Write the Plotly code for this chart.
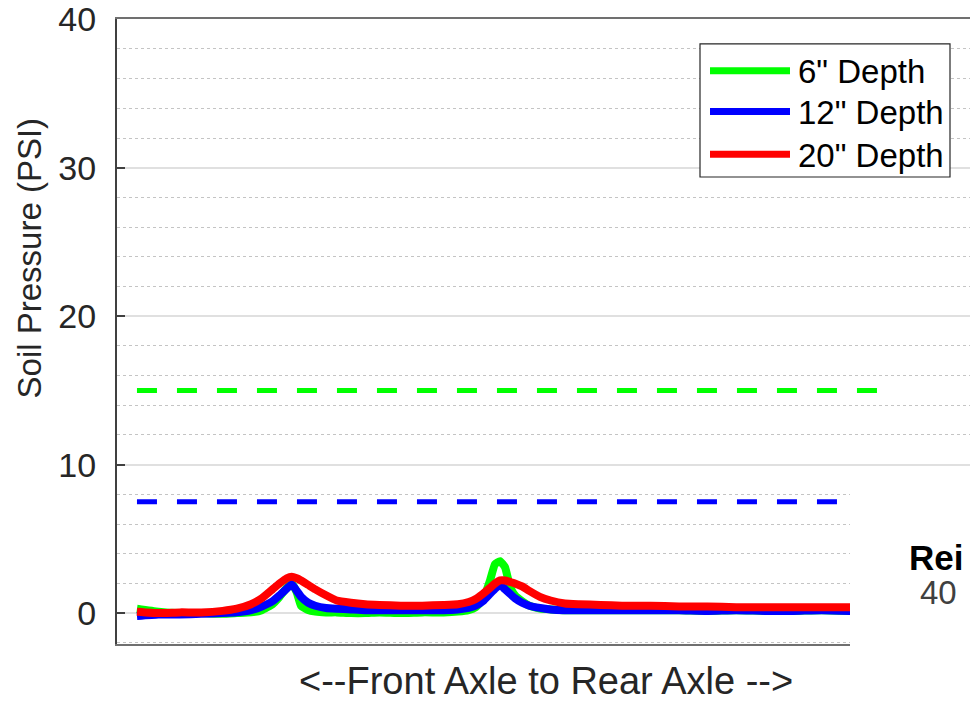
import plotly.graph_objects as go

# ---------------- data ----------------
pos = [0, 3, 6, 9, 12, 14, 16, 17.5, 19, 20, 21, 21.7, 22.4, 23, 24, 25, 26.5, 28, 30, 32,
       34, 37, 40, 43, 45, 46.5, 47.5, 48.5, 49.5, 50.2, 50.9, 51.6, 52.3, 53, 54, 55, 56.5,
       58, 60, 62, 65, 68, 72, 76, 80, 84, 88, 92, 96, 100]

depth6 = [0.3, 0.1, 0.0, 0.0, -0.05, 0.0, 0.05, 0.2, 0.6, 1.1, 1.7, 2.0, 1.4, 0.5, 0.2, 0.1, 0.05,
          0.05, 0.0, 0.0, 0.05, 0.0, 0.05, 0.05, 0.1, 0.2, 0.4, 0.9, 2.2, 3.3, 3.5, 3.1, 1.8, 1.2,
          0.8, 0.5, 0.3, 0.25, 0.2, 0.2, 0.2, 0.2, 0.2, 0.2, 0.15, 0.2, 0.15, 0.15, 0.2, 0.15]

depth12 = [-0.2, -0.1, -0.1, -0.05, 0.0, 0.05, 0.2, 0.45, 0.8, 1.2, 1.65, 1.95, 1.5, 1.1, 0.7, 0.5,
           0.35, 0.3, 0.25, 0.2, 0.2, 0.2, 0.2, 0.2, 0.25, 0.35, 0.5, 0.8, 1.3, 1.65, 1.9, 1.6, 1.3,
           1.0, 0.7, 0.5, 0.35, 0.25, 0.2, 0.2, 0.2, 0.2, 0.2, 0.2, 0.15, 0.2, 0.15, 0.15, 0.2, 0.15]

depth20 = [0.1, 0.0, 0.05, 0.05, 0.15, 0.3, 0.6, 1.0, 1.6, 2.0, 2.35, 2.45, 2.35, 2.2, 1.9, 1.6,
           1.2, 0.85, 0.7, 0.6, 0.55, 0.5, 0.5, 0.55, 0.6, 0.75, 0.95, 1.3, 1.7, 2.0, 2.2, 2.2, 2.1,
           2.0, 1.8, 1.5, 1.1, 0.85, 0.65, 0.6, 0.55, 0.5, 0.5, 0.45, 0.45, 0.4, 0.4, 0.4, 0.4, 0.4]

limit_x = [0, 105.3]
limit6 = [15, 15]
limit12 = [7.5, 7.5]

series_names = ['6" Depth', '12" Depth', '20" Depth']
series_colors = ['#00ff00', '#0000ff', '#ff0000']
y_ticks = [0, 10, 20, 30, 40]

FONT = "Liberation Sans, Arial, Helvetica, sans-serif"

# ---------------- figure ----------------
W, H = 970, 703
L, R, T, B = 117, 0, 15, 59
PW, PH = W - L - R, H - T - B


def px(x):
    return (x - L) / PW


def py(y):
    return (H - B - y) / PH


fig = go.Figure()

fig.add_trace(go.Scatter(x=limit_x, y=limit6, mode="lines", showlegend=False,
                         line=dict(color=series_colors[0], width=5, dash="20px,20px")))
fig.add_trace(go.Scatter(x=limit_x, y=limit12, mode="lines", showlegend=False,
                         line=dict(color=series_colors[1], width=5, dash="20px,20px")))

for name, col, vals in zip(series_names, series_colors, [depth6, depth12, depth20]):
    fig.add_trace(go.Scatter(x=pos, y=vals, mode="lines", name=name, showlegend=False,
                             line=dict(color=col, width=8, shape="spline", smoothing=0.4)))

shapes = []
# white panel covering lower-right corner (cropped neighbouring panel)
shapes.append(dict(type="rect", xref="paper", yref="paper", x0=px(850), x1=px(980),
                   y0=py(710), y1=py(467), fillcolor="white", line=dict(width=0), layer="above"))
# legend box
shapes.append(dict(type="rect", xref="paper", yref="paper", x0=px(700), x1=px(950),
                   y0=py(174), y1=py(40), fillcolor="white",
                   line=dict(color="#262626", width=1.2), layer="above"))
annotations = []
legend_y = [67, 108, 151]
for name, col, ly in zip(series_names, series_colors, legend_y):
    shapes.append(dict(type="line", xref="paper", yref="paper", x0=px(710), x1=px(790),
                       y0=py(ly), y1=py(ly), line=dict(color=col, width=7), layer="above"))
    annotations.append(dict(xref="paper", yref="paper", x=px(796), y=py(ly + 1), text=name,
                            showarrow=False, xanchor="left", yanchor="middle",
                            font=dict(family=FONT, size=33, color="#000000")))

annotations.append(dict(xref="paper", yref="paper", x=px(29), y=py(256),
                        text="Soil Pressure (PSI)", textangle=-90, showarrow=False,
                        xanchor="center", yanchor="middle",
                        font=dict(family=FONT, size=33, color="#262626")))
annotations.append(dict(xref="paper", yref="paper", x=px(546), y=py(681),
                        text="&lt;--Front Axle to Rear Axle --&gt;", showarrow=False,
                        xanchor="center", yanchor="middle", borderpad=0,
                        font=dict(family=FONT, size=38, color="#262626")))
annotations.append(dict(xref="paper", yref="paper", x=px(907), y=py(557),
                        text="<b>Rei</b>", showarrow=False, xanchor="left", yanchor="middle",
                        font=dict(family=FONT, size=35, color="#000000")))
annotations.append(dict(xref="paper", yref="paper", x=px(938), y=py(592),
                        text="40", showarrow=False, xanchor="center", yanchor="middle",
                        font=dict(family=FONT, size=33, color="#404040")))

fig.update_layout(
    width=W, height=H,
    margin=dict(l=L, r=R, t=T, b=B, pad=0),
    paper_bgcolor="white", plot_bgcolor="white",
    showlegend=False,
    shapes=shapes, annotations=annotations,
    xaxis=dict(range=[-2.8, 116.8], showgrid=False, zeroline=False, showticklabels=False,
               ticks="", showline=True, linecolor="#707070", linewidth=2, mirror=True),
    yaxis=dict(range=[-2.08, 40.02], tickvals=y_ticks, ticktext=[str(v) for v in y_ticks],
               showgrid=True, gridcolor="#e0e0e0", gridwidth=1.5, zeroline=False,
               showline=True, linecolor="#404040", linewidth=2, mirror=False,
               ticks="inside", ticklen=8, tickwidth=1.5, tickcolor="#404040",
               ticklabelstandoff=12, ticklabeloverflow="allow",
               tickfont=dict(family=FONT, size=34, color="#262626"),
               minor=dict(dtick=2, tick0=0, showgrid=True, gridcolor="#c4c4c4",
                          griddash="dot", gridwidth=1, ticks="")),
)

fig.write_html("out.html", config={"displayModeBar": False},
               post_script="document.body.style.margin='0';document.body.style.padding='0';")
